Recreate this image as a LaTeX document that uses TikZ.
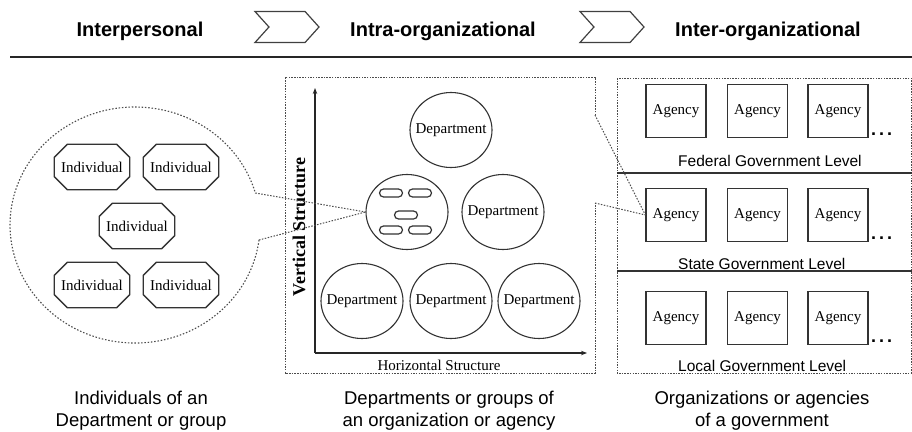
\documentclass[tikz,border=0pt]{standalone}
\usepackage{fontspec}
\setmainfont{Liberation Serif}
\setsansfont{Liberation Sans}
\usetikzlibrary{shapes.symbols,shapes.geometric,arrows.meta}
\begin{document}
\begin{tikzpicture}[x=1pt,y=-1pt,
 hdr/.style={font=\sffamily\bfseries\fontsize{20}{24}\selectfont, anchor=base, inner sep=0},
 capt/.style={font=\sffamily\fontsize{18.5}{22}\selectfont, align=center, anchor=center, inner sep=0},
 chev/.style={draw=black!75, line width=1.2pt, signal, signal from=west, signal to=east, minimum width=64pt, minimum height=31pt, inner sep=0, signal pointer angle=96},
 box/.style={draw=black!70, line width=0.9pt, dash pattern=on 1.5pt off 1.2pt},
 link/.style={draw=black!70, line width=1pt, dash pattern=on 1.5pt off 1.5pt},
 circ/.style={draw=black!70, line width=1.1pt, dash pattern=on 1.5pt off 1.8pt},
 indiv/.style={minimum width=75pt, minimum height=45pt, inner sep=0, font=\fontsize{15}{18}\selectfont},
 oct/.style={draw=black!80, line width=1.3pt},
 dept/.style={ellipse, draw=black!80, line width=1.1pt, minimum width=82pt, minimum height=75pt, inner sep=0, font=\fontsize{15}{18}\selectfont},
 pill/.style={draw=black!80, line width=1.2pt, rounded corners=4pt, minimum width=23pt, minimum height=8pt, inner sep=0},
 agency/.style={draw=black!80, line width=1.3pt, minimum width=60pt, minimum height=53pt, inner sep=0, font=\fontsize{15}{18}\selectfont},
 lvl/.style={font=\sffamily\fontsize{15.5}{18}\selectfont, anchor=base west, inner sep=0},
 dots/.style={font=\sffamily\bfseries\fontsize{18}{20}\selectfont, anchor=base west, inner sep=0},
 axis/.style={draw=black!85, line width=1.3pt, -{Stealth[length=6pt,width=4.5pt]}},
]
\useasboundingbox (0,0) rectangle (912,431);
% header
\node[hdr] (h1) at (140,36) {Interpersonal};
\node[chev] (c1) at (287,27) {};
\node[hdr] (h2) at (443,36) {Intra-organizational};
\node[chev] (c2) at (612,27) {};
\node[hdr] (h3) at (768,36) {Inter-organizational};
\draw[line width=1.8pt, black!85] (10,57) -- (912,57);

% left: individuals
\coordinate (gapLo) at (259,240);
\coordinate (gapUp) at (255.3,193);
\draw[circ] (gapLo) arc[start angle=7.3, end angle=344.3, x radius=125, y radius=118];
\foreach \n/\x/\y in {i1/92/167, i2/181/167, i3/137/226, i4/92/285, i5/181/285}{
  \node[indiv] (\n) at (\x,\y) {Individual};
  \draw[oct] ([xshift=13pt]\n.north west) -- ([xshift=-13pt]\n.north east) -- ([yshift=-13pt]\n.north east)
    -- ([yshift=13pt]\n.south east) -- ([xshift=-13pt]\n.south east) -- ([xshift=13pt]\n.south west)
    -- ([yshift=13pt]\n.south west) -- ([yshift=-13pt]\n.north west) -- cycle;
}

% middle box
\coordinate (mbTop) at (595,115);
\coordinate (mbBot) at (595,203);
\draw[box] (mbTop) -- (595,77) -- (285,77) -- (285,373) -- (595,373) -- (mbBot);
\coordinate (org) at (315,353);
\coordinate (ytip) at (315,88);
\coordinate (xtip) at (587,353);
\draw[axis] (org) -- (ytip);
\draw[axis] (org) -- (xtip);
\node[rotate=90, font=\bfseries\fontsize{18}{20}\selectfont, inner sep=0] (vs) at (299,227) {Vertical Structure};
\node[anchor=base, font=\fontsize{15}{18}\selectfont, inner sep=0] (hs) at (439,370) {Horizontal Structure};
\node[dept] (d1) at (451,130) {\makebox[0pt]{Department}};
\node[dept] (grp) at (407,212) {};
\node[dept] (d2) at (503,212) {\makebox[0pt]{Department}};
\node[dept] (d3) at (362,301) {\makebox[0pt]{Department}};
\node[dept] (d4) at (451,301) {\makebox[0pt]{Department}};
\node[dept] (d5) at (539,301) {\makebox[0pt]{Department}};
\foreach \n/\x/\y in {p1/391/193, p2/420/193, p3/406/215, p4/391/230, p5/420/230}{
  \node[pill] (\n) at (\x,\y) {};
}
\draw[link] (gapUp) -- (grp.west);
\draw[link] (gapLo) -- (grp.west);

% right box
\draw[box] (617,78) rectangle (911,373);
\draw[line width=1.2pt, black!80] (617,173) -- (912,173);
\draw[line width=1.2pt, black!80] (617,271) -- (912,271);
\foreach \r/\y/\b in {f/111/135, s/215/239, l/318/342}{
  \node[agency] (\r1) at (676,\y) {Agency};
  \node[agency] (\r2) at (757.5,\y) {Agency};
  \node[agency] (\r3) at (838,\y) {Agency};
  \node[dots] (\r d) at (871,\b) {.\,.\,.};
}
\node[lvl] (lf) at (678,166) {Federal Government Level};
\node[lvl] (ls) at (678,269) {State Government Level};
\node[lvl] (ll) at (678,371) {Local Government Level};
\draw[link] (mbTop) -- (s1.west);
\draw[link] (mbBot) -- (s1.west);

% captions
\node[capt] (k1) at (141,411) {Individuals of an\\Department or group};
\node[capt] (k2) at (449,411) {Departments or groups of\\an organization or agency};
\node[capt] (k3) at (762,411) {Organizations or agencies\\of a government};
\end{tikzpicture}
\end{document}
